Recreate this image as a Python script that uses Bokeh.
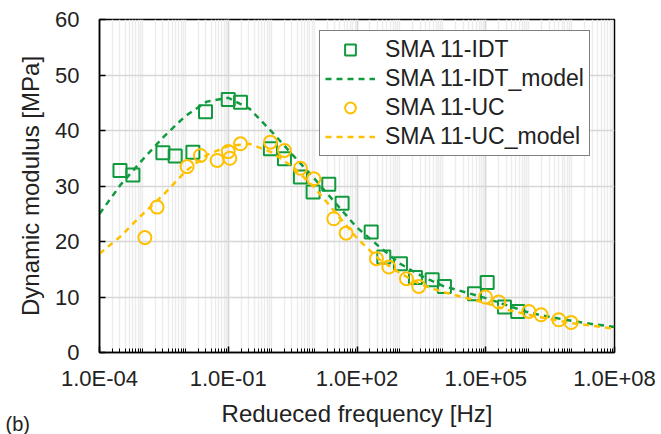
from bokeh.plotting import figure
from bokeh.models import (FixedTicker, CustomJSTickFormatter, Legend, LegendItem, Label, Range1d)
from bokeh.embed import file_html
from bokeh.resources import INLINE

# ---- data ----
idt_x = [3.0e-4, 6.0e-4, 3.0e-3, 5.8e-3, 1.5e-2, 2.95e-2, 0.1, 0.193, 0.96, 2.04, 4.8, 9.5, 22.0, 45.0,
         214.0, 421.0, 1030.0, 2300.0, 5640.0, 1.09e4, 5.46e4, 1.08e5, 2.73e5, 5.57e5]
idt_y = [32.8, 32.0, 36.0, 35.4, 36.1, 43.4, 45.6, 45.1, 36.7, 34.9, 31.6, 28.9, 30.3, 26.9,
         21.7, 17.2, 16.0, 13.5, 13.1, 11.9, 10.6, 12.6, 8.2, 7.4]

uc_x = [1.14e-3, 2.2e-3, 1.1e-2, 2.25e-2, 5.5e-2, 0.1, 0.109, 0.193, 0.96, 2.04, 4.8, 9.85, 28.8, 55.8,
        284.0, 551.0, 1420.0, 2750.0, 9.84e4, 2.01e5, 1.01e6, 1.95e6, 5.04e6, 9.77e6]
uc_y = [20.7, 26.2, 33.5, 35.5, 34.6, 36.2, 35.0, 37.6, 37.9, 36.4, 33.2, 31.3, 24.1, 21.5,
        16.9, 15.4, 13.3, 11.9, 10.0, 9.1, 7.4, 6.8, 5.9, 5.4]

model_logf = [-4.0, -3.5, -3.0, -2.5, -2.0, -1.5, -1.0, -0.5, 0.0, 0.5, 1.0, 1.5, 2.0,
              2.5, 3.0, 3.5, 4.0, 4.5, 5.0, 5.5, 6.0, 6.5, 7.0, 7.5, 8.0]
idt_model = [25.0, 30.3, 34.7, 38.9, 42.6, 45.2, 45.9, 43.9, 39.9, 35.6, 31.4, 26.9, 22.5,
             19.2, 16.0, 13.8, 12.0, 10.9, 9.8, 8.5, 7.2, 6.4, 5.7, 5.1, 4.6]
uc_model = [17.8, 21.0, 24.9, 28.5, 32.6, 35.6, 37.2, 37.6, 36.1, 33.5, 29.8, 25.2, 20.6,
            16.9, 14.3, 12.2, 10.9, 9.9, 8.9, 7.7, 6.8, 6.0, 5.3, 4.8, 4.3]

x_major = [1e-4, 1e-1, 1e2, 1e5, 1e8]
y_major = [0, 10, 20, 30, 40, 50, 60]

labels = ["SMA 11-IDT", "SMA 11-IDT_model", "SMA 11-UC", "SMA 11-UC_model"]
x_title = "Redueced frequency [Hz]"
y_title = "Dynamic modulus [MPa]"
panel_tag = "(b)"

GREEN = "#129a3e"
GOLD = "#ffc000"
FONT = "Liberation Sans"
TXT = "#222222"

model_f = [10 ** v for v in model_logf]
minor = []
for e in range(-4, 8):
    for k in range(1, 10):
        minor.append(k * 10.0 ** e)
minor.append(1e8)

p = figure(width=661, height=434, x_axis_type="log", output_backend="svg",
           toolbar_location=None, x_range=Range1d(1e-4, 1e8), y_range=Range1d(0, 60),
           min_border_left=99, min_border_right=47, min_border_top=19, min_border_bottom=82)

p.outline_line_color = "black"
p.outline_line_width = 1.5
p.background_fill_color = "white"
p.border_fill_color = "white"

# axes
p.xaxis.ticker = FixedTicker(ticks=x_major, minor_ticks=minor)
p.yaxis.ticker = FixedTicker(ticks=y_major)
p.xaxis.formatter = CustomJSTickFormatter(code="""
const e = Math.round(Math.log10(tick));
const m = tick / Math.pow(10, e);
return m.toFixed(1) + "E" + (e < 0 ? "-" : "+") + String(Math.abs(e)).padStart(2, "0");
""")
for ax in (p.xaxis, p.yaxis):
    ax.axis_line_color = "black"
    ax.axis_line_width = 1.5
    ax.major_tick_line_color = "black"
    ax.major_tick_line_width = 1.5
    ax.major_tick_in = 6
    ax.major_tick_out = 0
    ax.major_label_text_font = FONT
    ax.major_label_text_font_size = "22px"
    ax.major_label_text_color = TXT
    ax.axis_label_text_font = FONT
    ax.axis_label_text_font_size = "24px"
    ax.axis_label_text_font_style = "normal"
    ax.axis_label_text_color = TXT
p.xaxis.minor_tick_line_color = "black"
p.xaxis.minor_tick_in = 4
p.xaxis.minor_tick_out = 0
p.yaxis.minor_tick_line_color = None
p.xaxis.major_label_standoff = 13
p.yaxis.major_label_standoff = 20
p.xaxis.axis_label = x_title
p.yaxis.axis_label = y_title
p.xaxis.axis_label_standoff = 6
p.yaxis.axis_label_standoff = 8

# grids
p.xgrid.grid_line_color = "#d6d6d6"
p.xgrid.grid_line_width = 1.5
p.xgrid.minor_grid_line_color = "#ececec"
p.xgrid.minor_grid_line_width = 1.5
p.ygrid.grid_line_color = "#d6d6d6"
p.ygrid.grid_line_width = 1.5

# glyphs
r1 = p.scatter(idt_x, idt_y, marker="square", size=13, fill_color=None,
               line_color=GREEN, line_width=2)
r2 = p.line(model_f, idt_model, line_color=GREEN, line_width=2.5, line_dash="6 5")
r3 = p.scatter(uc_x, uc_y, marker="circle", size=13, fill_color=None,
               line_color=GOLD, line_width=2)
r4 = p.line(model_f, uc_model, line_color=GOLD, line_width=2.5, line_dash="6 5")

legend = Legend(items=[LegendItem(label=labels[0], renderers=[r1]),
                       LegendItem(label=labels[1], renderers=[r2]),
                       LegendItem(label=labels[2], renderers=[r3]),
                       LegendItem(label=labels[3], renderers=[r4])],
                location=(220, 196))
legend.border_line_color = "black"
legend.border_line_width = 1.5
legend.background_fill_alpha = 1.0
legend.label_text_font = FONT
legend.label_text_font_size = "23px"
legend.label_text_color = TXT
legend.glyph_width = 50
legend.glyph_height = 27
legend.label_height = 27
legend.spacing = 2
legend.padding = 5
legend.margin = 0
legend.label_standoff = 10
p.add_layout(legend, "center")

# panel tag, hosted in the (otherwise empty) right side panel, drawn at bottom-left
lab = Label(x=-609, y=-60, x_units="screen", y_units="screen", text=panel_tag,
            text_font=FONT, text_font_size="20px", text_color=TXT, text_baseline="top")
p.add_layout(lab, "right")

open("out.html", "w").write(file_html(p, INLINE))
